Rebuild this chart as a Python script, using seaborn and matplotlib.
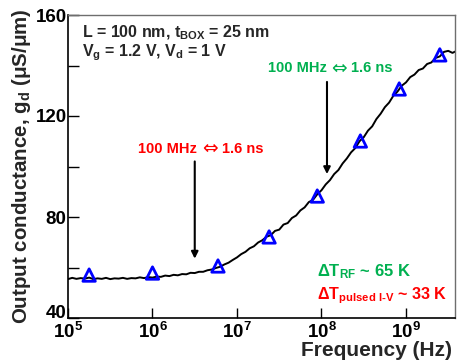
import numpy as np
import pandas as pd
import matplotlib
matplotlib.use("Agg")
import matplotlib.pyplot as plt
import matplotlib.transforms as mtransforms
import seaborn as sns

# ---------------- data ----------------
curve_exp = [5.00, 5.05, 5.10, 5.15, 5.20, 5.25, 5.30, 5.35, 5.40, 5.45,
             5.50, 5.55, 5.60, 5.65, 5.70, 5.75, 5.80, 5.85, 5.90, 5.95,
             6.00, 6.05, 6.10, 6.15, 6.20, 6.25, 6.30, 6.35, 6.40, 6.45,
             6.50, 6.55, 6.60, 6.65, 6.70, 6.75, 6.80, 6.85, 6.90, 6.95,
             7.00, 7.05, 7.10, 7.15, 7.20, 7.25, 7.30, 7.35, 7.40, 7.45,
             7.50, 7.55, 7.60, 7.65, 7.70, 7.75, 7.80, 7.85, 7.90, 7.95,
             8.00, 8.05, 8.10, 8.15, 8.20, 8.25, 8.30, 8.35, 8.40, 8.45,
             8.50, 8.55, 8.60, 8.65, 8.70, 8.75, 8.80, 8.85, 8.90, 8.95,
             9.00, 9.05, 9.10, 9.15, 9.20, 9.25, 9.30, 9.35, 9.40, 9.45,
             9.50, 9.55, 9.60]
curve_gd = [55.4, 55.9, 55.5, 55.8, 55.6, 56.0, 55.4, 55.7, 55.5, 55.9,
            55.4, 55.7, 55.6, 55.9, 55.5, 55.8, 55.7, 56.1, 55.8, 56.2,
            56.0, 56.4, 56.3, 56.8, 56.6, 57.1, 56.9, 57.4, 57.3, 57.9,
            57.8, 58.3, 58.3, 58.9, 59.2, 59.8, 60.3, 61.2, 61.9, 63.0,
            64.0, 65.3, 66.2, 67.6, 68.4, 69.9, 70.8, 72.2, 72.8, 74.5,
            75.0, 77.0, 77.6, 79.6, 80.6, 82.6, 83.8, 85.9, 86.8, 89.0,
            90.6, 92.9, 94.6, 97.0, 98.6, 101.2, 103.2, 105.6, 107.3, 110.0,
            111.6, 114.2, 115.9, 118.8, 120.9, 123.5, 125.3, 128.0, 129.7, 132.0,
            133.3, 135.4, 136.4, 138.2, 138.8, 140.6, 141.2, 143.0, 143.6, 145.4,
            145.8, 145.0, 145.8]

tri_exp = [5.25, 6.00, 6.775, 7.38, 7.95, 8.46, 8.92, 9.40]
tri_gd = [57.0, 57.8, 60.6, 72.1, 88.3, 110.1, 130.7, 144.2]

x_ticks = [1e5, 1e6, 1e7, 1e8, 1e9]
x_ticklabels = [r"$\mathregular{10^{5}}$", r"$\mathregular{10^{6}}$",
                r"$\mathregular{10^{7}}$", r"$\mathregular{10^{8}}$",
                r"$\mathregular{10^{9}}$"]
y_major = [40, 80, 120, 160]
y_minor = [60, 100, 140]

curve = pd.DataFrame({"f": [10 ** e for e in curve_exp], "gd": curve_gd})
tris = pd.DataFrame({"f": [10 ** e for e in tri_exp], "gd": tri_gd})

# ---------------- style ----------------
sns.set_style("ticks")
plt.rcParams["font.family"] = ["Liberation Sans", "DejaVu Sans"]
plt.rcParams["font.weight"] = "bold"
plt.rcParams["mathtext.fontset"] = "custom"
plt.rcParams["mathtext.rm"] = "Liberation Sans:bold"
plt.rcParams["mathtext.it"] = "Liberation Sans:bold"
plt.rcParams["mathtext.bf"] = "Liberation Sans:bold"
plt.rcParams["mathtext.default"] = "regular"

fig = plt.figure(figsize=(4.58, 3.64), dpi=100)
ax = fig.add_axes([68 / 458, 46 / 364, 387 / 458, 303 / 364])

sns.lineplot(data=curve, x="f", y="gd", ax=ax, color="black", lw=1.4,
             estimator=None, sort=False)
sns.scatterplot(data=tris, x="f", y="gd", ax=ax, marker="^", s=80,
                facecolor="none", edgecolor="#0000FF", linewidth=2.0, zorder=5)

ax.set_xscale("log")
ax.set_xlim(1e5, 10 ** 9.58)
ax.set_ylim(40, 160)

ax.set_xticks(x_ticks)
ax.set_xticklabels(x_ticklabels)
ax.xaxis.set_minor_locator(matplotlib.ticker.NullLocator())
ax.set_yticks(y_major)
ax.set_yticks(y_minor, minor=True)

ax.tick_params(axis="both", which="both", direction="in", top=False, right=False,
               colors="black", width=1.0)
ax.tick_params(axis="y", which="both", length=8, pad=1, labelsize=13.5)
ax.tick_params(axis="x", which="major", length=7, pad=3, labelsize=13.5)
for lab in ax.get_xticklabels() + ax.get_yticklabels():
    lab.set_fontweight("bold")

# lift the lowest y label so it sits on the bottom spine
fig.canvas.draw()
ylabs = ax.get_yticklabels()
ylabs[0].set_transform(ylabs[0].get_transform() +
                       mtransforms.ScaledTranslation(0, 6 / 100, fig.dpi_scale_trans))

for s in ["left", "bottom"]:
    ax.spines[s].set_color("black")
    ax.spines[s].set_linewidth(1.2)
for s in ["top", "right"]:
    ax.spines[s].set_visible(True)
    ax.spines[s].set_color("#6e6e6e")
    ax.spines[s].set_linewidth(1.0)

ax.set_xlabel("")
fig.text(452 / 458, 1 - 350 / 364, "Frequency (Hz)", fontsize=15, fontweight="bold",
         ha="right", va="center")
ax.set_ylabel(r"Output conductance, $\mathregular{g_d}$ (μS/μm)", fontsize=14.8,
              fontweight="bold", labelpad=2)

# annotations
ax.text(0.036, 0.942, r"L = 100 nm, $\mathregular{t_{BOX}}$ = 25 nm",
        transform=ax.transAxes, fontsize=11.5, fontweight="bold", va="center", ha="left")
ax.text(0.036, 0.876, r"$\mathregular{V_g}$ = 1.2 V, $\mathregular{V_d}$ = 1 V",
        transform=ax.transAxes, fontsize=11.5, fontweight="bold", va="center", ha="left")


def freq_time_label(xc, yc, color):
    """'100 MHz ⇔ 1.6 ns' with a larger hollow double arrow centred at (xc, yc)."""
    ax.annotate("⇔", xy=(xc, yc), ha="center", va="center", color=color,
                fontsize=13.5, fontweight="normal", family="DejaVu Sans")
    ax.annotate("100 MHz", xy=(xc, yc), xytext=(-13, 0), textcoords="offset pixels",
                ha="right", va="center", color=color, fontsize=10.5, fontweight="bold")
    ax.annotate("1.6 ns", xy=(xc, yc), xytext=(12, 0), textcoords="offset pixels",
                ha="left", va="center", color=color, fontsize=10.5, fontweight="bold")


freq_time_label(10 ** 6.675, 107.0, "#FF0000")
freq_time_label(10 ** 8.213, 139.0, "#00B050")

ax.annotate("", xy=(10 ** 6.50, 63.5), xytext=(10 ** 6.50, 102.0),
            arrowprops=dict(arrowstyle="-|>", color="black", lw=1.5,
                            mutation_scale=10, shrinkA=0, shrinkB=0))
ax.annotate("", xy=(10 ** 8.065, 97.0), xytext=(10 ** 8.065, 133.5),
            arrowprops=dict(arrowstyle="-|>", color="black", lw=1.5,
                            mutation_scale=10, shrinkA=0, shrinkB=0))

ax.text(10 ** 7.95, 58.5, r"ΔT$\mathregular{_{RF}}$ ~ 65 K", color="#00B050",
        fontsize=12, fontweight="bold", ha="left", va="center")
ax.text(10 ** 7.95, 49.0, r"ΔT$\mathregular{_{pulsed\ I\text{-}V}}$ ~ 33 K", color="#FF0000",
        fontsize=11.6, fontweight="bold", ha="left", va="center")

fig.savefig("out.png", dpi=100)
